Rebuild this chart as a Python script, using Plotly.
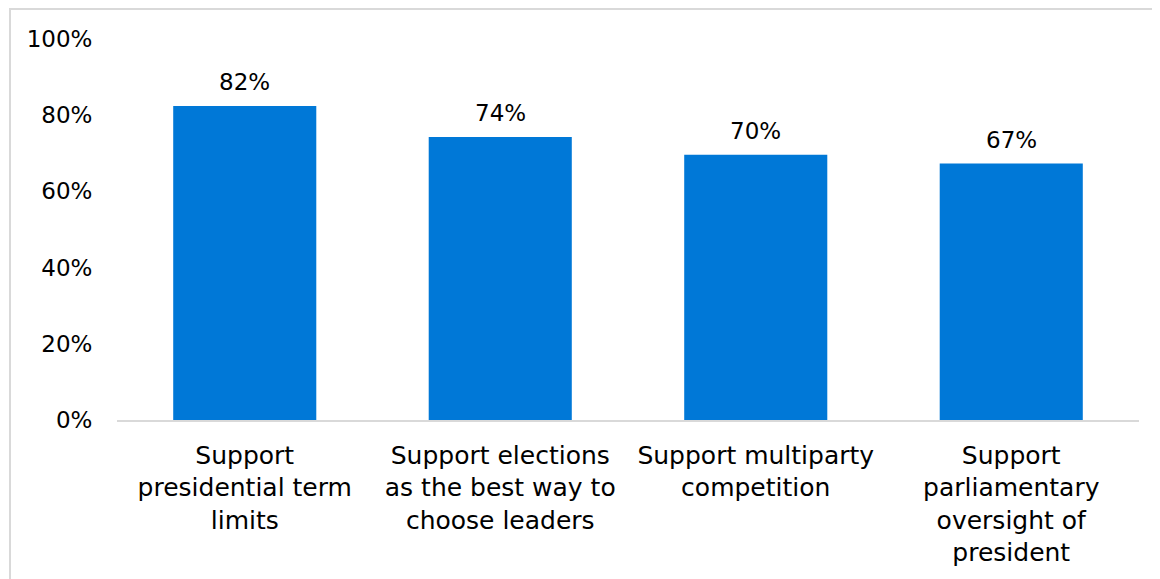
import plotly.graph_objects as go

categories = [
    "Support<br>presidential term<br>limits",
    "Support elections<br>as the best way to<br>choose leaders",
    "Support multiparty<br>competition",
    "Support<br>parliamentary<br>oversight of<br>president",
]
values = [0.824, 0.743, 0.696, 0.673]
tick_vals = [0, 0.2, 0.4, 0.6, 0.8, 1.0]
tick_text = ["0%", "20%", "40%", "60%", "80%", "100%"]

FONT = "DejaVu Sans"
FS = 23

fig = go.Figure()
fig.add_trace(go.Bar(
    x=categories, y=values,
    marker=dict(color="#0078D7", line=dict(width=0)),
    hoverinfo="skip",
))

for c, v in zip(categories, values):
    fig.add_annotation(x=c, y=v, text=f"{v:.0%}", showarrow=False,
                       yanchor="bottom", yshift=9,
                       font=dict(family=FONT, size=FS, color="#000000"))

fig.update_layout(
    width=1152, height=571,
    margin=dict(l=109, r=21, t=31, b=159),
    paper_bgcolor="white", plot_bgcolor="white",
    bargap=0.44,
    showlegend=False,
    font=dict(family=FONT, size=FS, color="#000000"),
    xaxis=dict(showline=True, linecolor="#d9d9d9", linewidth=1.5,
               ticks="", showgrid=False, tickfont=dict(size=25),
               ticklabelstandoff=12),
    yaxis=dict(range=[0, 1], tickvals=tick_vals, ticktext=tick_text,
               showgrid=False, zeroline=False, showline=False,
               ticks="outside", ticklen=19, tickcolor="white",
               tickfont=dict(size=FS)),
    shapes=[dict(type="rect", xref="paper", yref="paper",
                 x0=-0.1047, x1=1.2, y0=-0.6, y1=1.0787,
                 line=dict(color="#d9d9d9", width=2), fillcolor="rgba(0,0,0,0)",
                 layer="below")],
)

fig.write_html("out.html")
